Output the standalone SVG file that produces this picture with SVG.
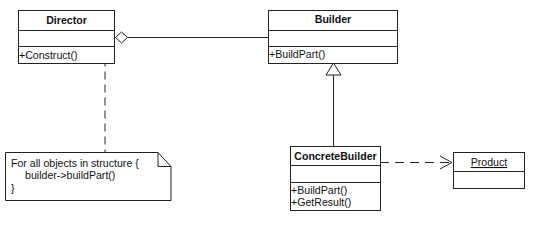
<svg xmlns="http://www.w3.org/2000/svg" width="533" height="240" viewBox="0 0 533 240">
<style>
.box{fill:#fff;stroke:#222;stroke-width:1}
.ln{fill:none;stroke:#222;stroke-width:1}
.t{font-family:"Liberation Sans",Arial,sans-serif;font-size:10.6px;fill:#111}
.b{font-weight:bold;text-anchor:middle}
</style>
<rect width="533" height="240" fill="#fff"/>
<g id="connectors">
<path class="ln" d="M127.5 37.5H268"/>
<path class="box" d="M115.5 37.5L121.5 32L127.5 37.5L121.5 43Z"/>
<path class="ln" d="M105 58.5V152" stroke-dasharray="8,5"/>
<circle class="box" cx="105" cy="55.5" r="3"/>
<path class="ln" d="M333.5 75V147"/>
<path class="box" d="M333.5 63L326 75H341Z"/>
<path class="ln" d="M380 162.5H451" stroke-dasharray="9,6"/>
<path class="ln" d="M440 156L452 162.5L440 169"/>
</g>
<g id="director">
<rect class="box" x="18.5" y="10.5" width="96" height="53"/>
<path class="ln" d="M18.5 30.5H114.5M18.5 46.5H114.5"/>
<text class="t b" x="66.5" y="24">Director</text>
<text class="t" x="19" y="59">+Construct()</text>
</g>
<g id="builder">
<rect class="box" x="268.5" y="10.5" width="129" height="53"/>
<path class="ln" d="M268.5 30.5H397.5M268.5 46.5H397.5"/>
<text class="t b" x="333" y="23">Builder</text>
<text class="t" x="269" y="58">+BuildPart()</text>
</g>
<g id="concretebuilder">
<rect class="box" x="290.5" y="146.5" width="90" height="64"/>
<path class="ln" d="M290.5 165.5H380.5M290.5 182.5H380.5"/>
<text class="t b" x="335.5" y="159.5">ConcreteBuilder</text>
<text class="t" x="291" y="193.5">+BuildPart()</text>
<text class="t" x="291" y="205.5">+GetResult()</text>
</g>
<g id="product">
<rect class="box" x="453.5" y="152.5" width="71" height="36"/>
<path class="ln" d="M453.5 171.5H524.5"/>
<text class="t" x="489" y="166" text-anchor="middle" text-decoration="underline">Product</text>
</g>
<g id="note">
<path class="box" d="M5.5 152.5H158L171 166.5V200.5H5.5Z"/>
<path class="ln" d="M158 152.5V166.5H171"/>
<text class="t" x="11" y="167">For all objects in structure {</text>
<text class="t" x="25" y="179">builder-&gt;buildPart()</text>
<text class="t" x="11" y="192">}</text>
</g>
</svg>
